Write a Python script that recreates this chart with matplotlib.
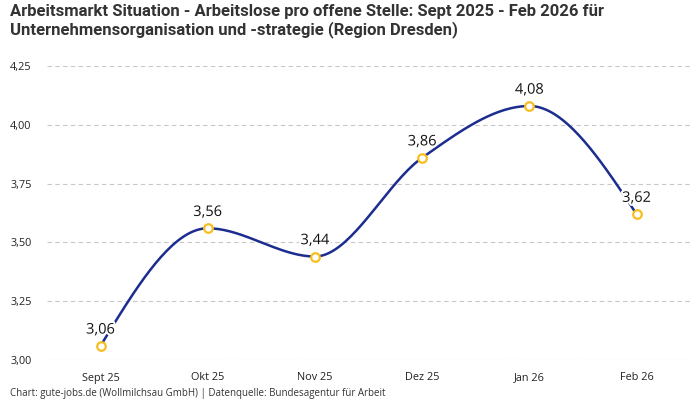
import numpy as np
import matplotlib
matplotlib.use("Agg")
import matplotlib.pyplot as plt
import matplotlib.patheffects as pe

categories = ["Sept 25", "Okt 25", "Nov 25", "Dez 25", "Jan 26", "Feb 26"]
values = [3.06, 3.56, 3.44, 3.86, 4.08, 3.62]
yticks = [3.00, 3.25, 3.50, 3.75, 4.00, 4.25]
title = ("Arbeitsmarkt Situation - Arbeitslose pro offene Stelle: Sept 2025 - Feb 2026 für\n"
         "Unternehmensorganisation und -strategie (Region Dresden)")
footer = "Chart: gute-jobs.de (Wollmilchsau GmbH) | Datenquelle: Bundesagentur für Arbeit"

LINE = "#1b2d8f"
MARK = "#f7bf1e"

def monotone_curve(x, y, n=40):
    x = np.asarray(x, float); y = np.asarray(y, float)
    h = np.diff(x); s = np.diff(y) / h
    m = np.zeros_like(y)
    for i in range(1, len(x) - 1):
        if s[i-1] * s[i] <= 0:
            m[i] = 0
        else:
            p = (s[i-1] * h[i] + s[i] * h[i-1]) / (h[i-1] + h[i])
            m[i] = (np.sign(s[i-1]) + np.sign(s[i])) * min(abs(s[i-1]), abs(s[i]), 0.5 * abs(p))
    m[0] = (3 * s[0] - m[1]) / 2
    m[-1] = (3 * s[-1] - m[-2]) / 2
    xs, ys = [], []
    for i in range(len(x) - 1):
        t = np.linspace(0, 1, n)
        h00 = 2*t**3 - 3*t**2 + 1; h10 = t**3 - 2*t**2 + t
        h01 = -2*t**3 + 3*t**2; h11 = t**3 - t**2
        xs.append(x[i] + t * h[i])
        ys.append(h00*y[i] + h10*h[i]*m[i] + h01*y[i+1] + h11*h[i]*m[i+1])
    return np.concatenate(xs), np.concatenate(ys)

plt.rcParams['font.family'] = ['Open Sans', 'DejaVu Sans']

fig = plt.figure(figsize=(7, 4), dpi=100)
ax = fig.add_axes([0.067, 0.10, 0.919, 0.735])

x = np.arange(len(categories))
cx, cy = monotone_curve(x, values)
ax.plot(cx, cy, color=LINE, lw=1.8, zorder=3, solid_capstyle='round')
ax.scatter(x, values, s=38, facecolor='white', edgecolor=MARK, linewidth=1.6, zorder=5)

for xi, v in zip(x, values):
    t = ax.annotate(f"{v:.2f}".replace(".", ","), (xi, v), xytext=(0, 6),
                    textcoords='offset points', ha='center', va='bottom',
                    fontsize=10.5, fontweight='medium', color='#111111', zorder=6)
    t.set_path_effects([pe.withStroke(linewidth=3, foreground='white')])

ax.set_xlim(-0.5, len(categories) - 0.5)
ax.set_ylim(3.0, 4.25)
ax.set_yticks(yticks)
ax.set_yticklabels([f"{v:.2f}".replace(".", ",") for v in yticks])
ax.set_xticks(x)
ax.set_xticklabels(categories)
ax.tick_params(axis='both', length=0, labelsize=7.8, colors='#222222')
ax.tick_params(axis='x', pad=9)
ax.tick_params(axis='y', pad=11)
ax.grid(axis='y', color='#c8c8c8', linestyle=(0, (4, 3)), linewidth=0.8)
ax.set_axisbelow(True)
for s in ax.spines.values():
    s.set_visible(False)

fig.text(0.014, 0.99, title, ha='left', va='top', fontsize=12, fontweight='bold',
         color='#333333', family=['Roboto', 'DejaVu Sans'], linespacing=1.15)
fig.text(0.014, 0.003, footer, ha='left', va='bottom', fontsize=7, color='#333333')

fig.savefig("out.png", dpi=100, facecolor='white')
